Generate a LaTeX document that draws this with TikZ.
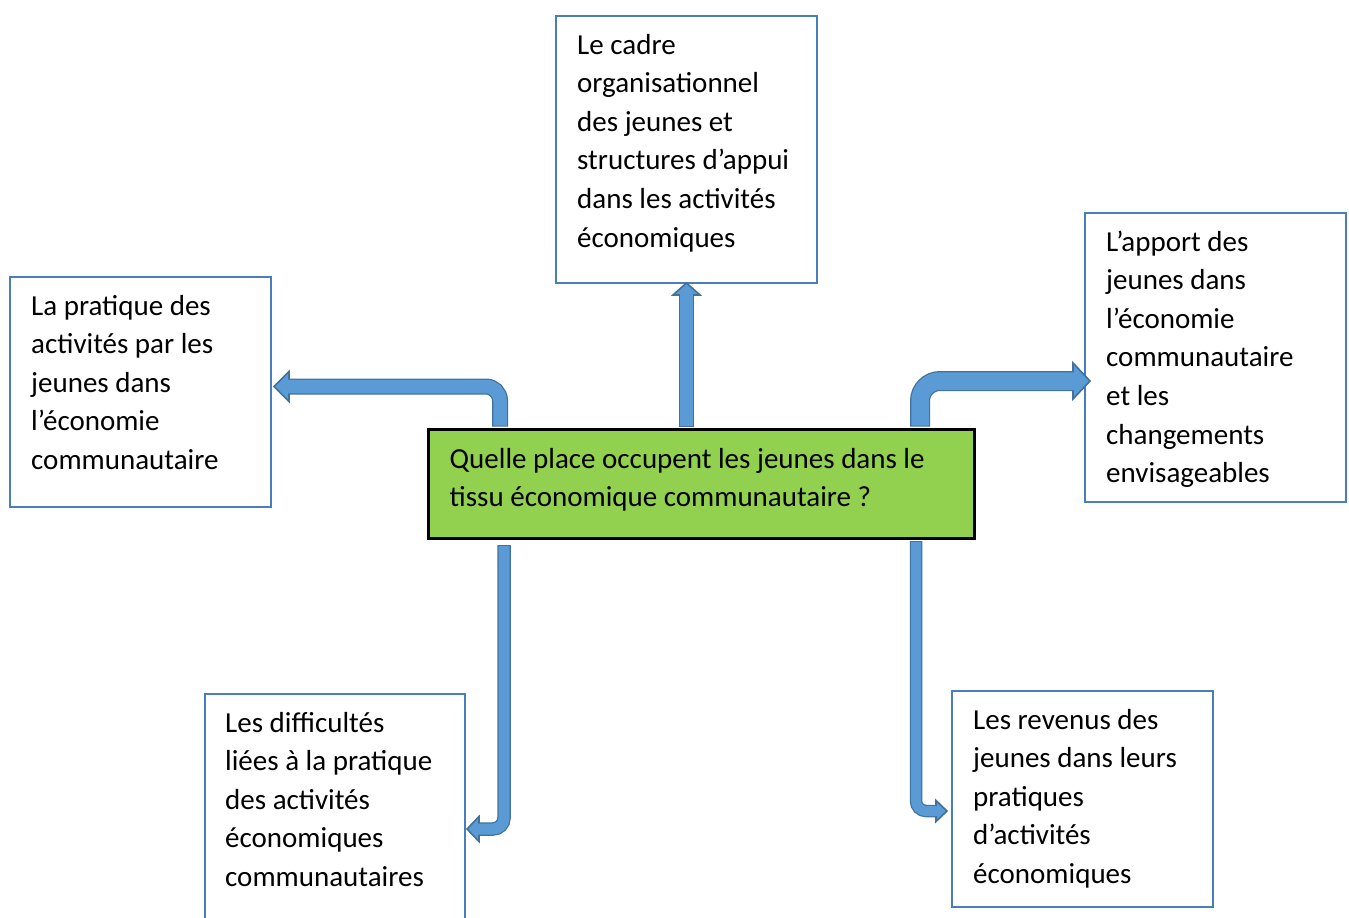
\documentclass[tikz,border=0pt]{standalone}
\usepackage{fontspec}
\setmainfont{Carlito}
\usetikzlibrary{calc}
\definecolor{afill}{HTML}{5B9BD5}
\definecolor{aline}{HTML}{41719C}
\definecolor{bline}{HTML}{4A7EBB}
\definecolor{qfill}{HTML}{92D050}
\newcommand{\boxtext}[1]{\parbox[t]{1000pt}{\raggedright #1}}
\begin{document}
\begin{tikzpicture}[x=1pt,y=-1pt,
  box/.style={draw=bline, line width=2pt, fill=white, rectangle, inner sep=0pt, anchor=north west},
  qbox/.style={draw=black, line width=2.5pt, fill=qfill, rectangle, inner sep=0pt, anchor=north west},
  txt/.style={anchor=base west, inner sep=0pt, font=\fontsize{29}{38.6}\selectfont},
  shaftout/.style={draw=aline, line width=#1, line cap=butt},
  shaftin/.style={draw=afill, line width=#1, line cap=butt, shorten <=1pt, shorten >=-1.8pt},
  head/.style={fill=afill, draw=aline, line width=1.6pt, line join=miter}]
\useasboundingbox (0,0) rectangle (1349,918);

% boxes
\node[box, minimum width=261, minimum height=267] (tb) at (555,15) {};
\node[box, minimum width=261, minimum height=230] (lb) at (9,276) {};
\node[box, minimum width=261, minimum height=289] (rb) at (1084,212) {};
\node[qbox, minimum width=546, minimum height=109] (q) at (427,428) {};
\node[box, minimum width=260, minimum height=245] (blb) at (204,693) {};
\node[box, minimum width=261, minimum height=216] (brb) at (951,690) {};

% texts
\node[txt] (tbt) at ($(tb.north west)+(22,39)$) {\boxtext{Le cadre\\organisationnel\\des jeunes et\\structures d’appui\\dans les activités\\économiques}};
\node[txt] (lbt) at ($(lb.north west)+(22,39)$) {\boxtext{La pratique des\\activités par les\\jeunes dans\\l’économie\\communautaire}};
\node[txt] (rbt) at ($(rb.north west)+(22,39)$) {\boxtext{L’apport des\\jeunes dans\\l’économie\\communautaire\\et les\\changements\\envisageables}};
\node[txt] (qt) at ($(q.north west)+(22.5,40)$) {\boxtext{Quelle place occupent les jeunes dans le\\tissu économique communautaire ?}};
\node[txt] (blbt) at ($(blb.north west)+(21,39)$) {\boxtext{Les difficultés\\liées à la pratique\\des activités\\économiques\\communautaires}};
\node[txt] (brbt) at ($(brb.north west)+(22,39)$) {\boxtext{Les revenus des\\jeunes dans leurs\\pratiques\\d’activités\\économiques}};

% arrow coordinates
\coordinate (a1s) at (686.5,426.5);
\coordinate (a1b) at (686.5,295);
\coordinate (a1t) at (686.5,283);
\coordinate (a2s) at (500,426.5);
\coordinate (a2b) at (289,386.5);
\coordinate (a2t) at (274,386.5);
\coordinate (a3s) at (920,426.5);
\coordinate (a3b) at (1073,381);
\coordinate (a3t) at (1090,381);
\coordinate (a4s) at (504,545);
\coordinate (a4b) at (479,829);
\coordinate (a4t) at (467,829);
\coordinate (a5s) at (916,541);
\coordinate (a5b) at (936,811);
\coordinate (a5t) at (947,811);

% arrow 1: up
\draw[shaftout=15] (a1s) -- (a1b);
\filldraw[head] ($(a1b)+(-13.5,0)$) -- (a1t) -- ($(a1b)+(13.5,0)$) -- cycle;
\draw[shaftin=12.5] (a1s) -- (a1b);

% arrow 2: left
\draw[shaftout=16, rounded corners=14] (a2s) |- (a2b);
\filldraw[head] ($(a2b)+(0,-15)$) -- (a2t) -- ($(a2b)+(0,15)$) -- cycle;
\draw[shaftin=13.5, rounded corners=14] (a2s) |- (a2b);

% arrow 3: right
\draw[shaftout=20, rounded corners=20] (a3s) |- (a3b);
\filldraw[head] ($(a3b)+(0,-18)$) -- (a3t) -- ($(a3b)+(0,18)$) -- cycle;
\draw[shaftin=17.5, rounded corners=20] (a3s) |- (a3b);

% arrow 4: bottom left
\draw[shaftout=13.5, rounded corners=11] (a4s) |- (a4b);
\filldraw[head] ($(a4b)+(0,-12.5)$) -- (a4t) -- ($(a4b)+(0,12.5)$) -- cycle;
\draw[shaftin=11, rounded corners=11] (a4s) |- (a4b);

% arrow 5: bottom right
\draw[shaftout=12.5, rounded corners=10] (a5s) |- (a5b);
\filldraw[head] ($(a5b)+(0,-10.5)$) -- (a5t) -- ($(a5b)+(0,10.5)$) -- cycle;
\draw[shaftin=10, rounded corners=10] (a5s) |- (a5b);
\end{tikzpicture}
\end{document}
